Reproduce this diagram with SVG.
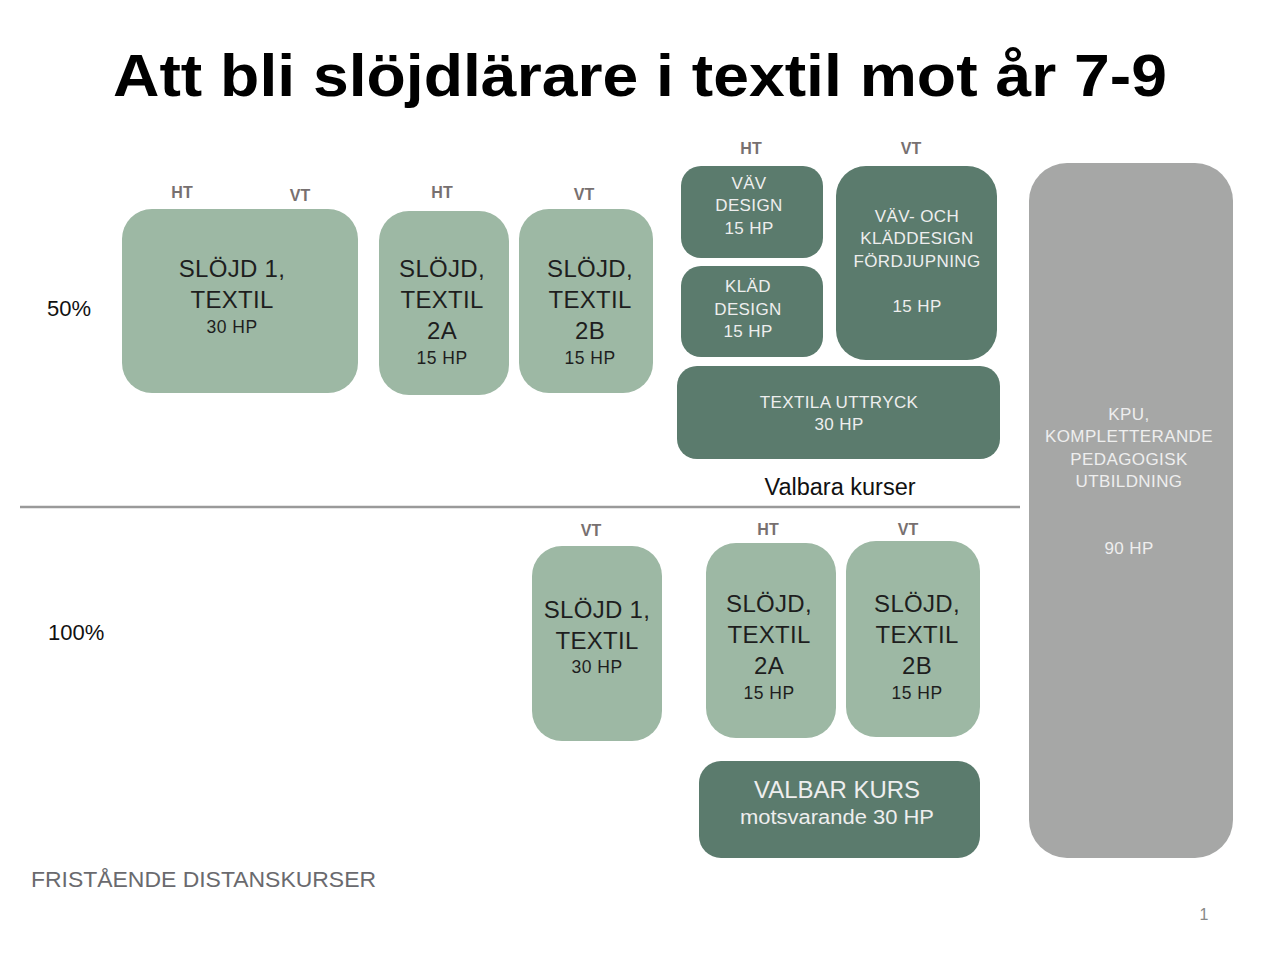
<svg xmlns="http://www.w3.org/2000/svg" width="1280" height="960" viewBox="0 0 1280 960">
<style>
text{font-family:"Liberation Sans",Arial,sans-serif;text-anchor:middle}
.light{fill:#9db8a4}
.dark{fill:#5b7b6d}
.gray{fill:#a6a7a6}
.lt{fill:#1e1e1e;font-size:24px;letter-spacing:0.3px}
.lts{fill:#1e1e1e;font-size:17.5px;letter-spacing:0.5px}
.dt{fill:#eeeeee;font-size:17px;letter-spacing:0.4px}
.sem{fill:#777070;font-size:16px;font-weight:bold}
.pct{fill:#111;font-size:22px;text-anchor:start}
</style>
<rect width="1280" height="960" fill="#fff"/>
<text x="640" y="96" font-size="60" font-weight="bold" fill="#000" textLength="1054" lengthAdjust="spacingAndGlyphs">Att bli slöjdlärare i textil mot år 7-9</text>

<g id="semesters">
<text class="sem" x="182" y="198">HT</text>
<text class="sem" x="300" y="201">VT</text>
<text class="sem" x="442" y="198">HT</text>
<text class="sem" x="584" y="200">VT</text>
<text class="sem" x="751" y="154">HT</text>
<text class="sem" x="911" y="154">VT</text>
<text class="sem" x="591" y="536">VT</text>
<text class="sem" x="768" y="535">HT</text>
<text class="sem" x="908" y="535">VT</text>
</g>

<text class="pct" x="47" y="316">50%</text>
<text class="pct" x="48" y="640">100%</text>

<g id="s1-50">
<rect class="light" x="122" y="209" width="236" height="184" rx="30"/>
<text class="lt" x="232" y="277">SLÖJD 1,</text>
<text class="lt" x="232" y="308">TEXTIL</text>
<text class="lts" x="232" y="333">30 HP</text>
</g>
<g id="s2a-50">
<rect class="light" x="379" y="211" width="130" height="184" rx="30"/>
<text class="lt" x="442" y="277">SLÖJD,</text>
<text class="lt" x="442" y="308">TEXTIL</text>
<text class="lt" x="442" y="339">2A</text>
<text class="lts" x="442" y="364">15 HP</text>
</g>
<g id="s2b-50">
<rect class="light" x="519" y="209" width="134" height="184" rx="30"/>
<text class="lt" x="590" y="277">SLÖJD,</text>
<text class="lt" x="590" y="308">TEXTIL</text>
<text class="lt" x="590" y="339">2B</text>
<text class="lts" x="590" y="364">15 HP</text>
</g>

<g id="vav">
<rect class="dark" x="681" y="166" width="142" height="92" rx="20"/>
<text class="dt" x="749" y="189">VÄV</text>
<text class="dt" x="749" y="211">DESIGN</text>
<text class="dt" x="749" y="234">15 HP</text>
</g>
<g id="klad">
<rect class="dark" x="681" y="266" width="142" height="91" rx="20"/>
<text class="dt" x="748" y="292">KLÄD</text>
<text class="dt" x="748" y="315">DESIGN</text>
<text class="dt" x="748" y="337">15 HP</text>
</g>
<g id="fordjupning">
<rect class="dark" x="836" y="166" width="161" height="194" rx="30"/>
<text class="dt" x="917" y="222">VÄV- OCH</text>
<text class="dt" x="917" y="244">KLÄDDESIGN</text>
<text class="dt" x="917" y="267">FÖRDJUPNING</text>
<text class="dt" x="917" y="312">15 HP</text>
</g>
<g id="textila">
<rect class="dark" x="677" y="366" width="323" height="93" rx="20"/>
<text class="dt" x="839" y="408">TEXTILA UTTRYCK</text>
<text class="dt" x="839" y="430">30 HP</text>
</g>
<text x="840" y="495" font-size="23.5" fill="#111">Valbara kurser</text>

<g id="connectors">
<line x1="20" y1="507" x2="1020" y2="507" stroke="#9a9a9a" stroke-width="2.5"/>
</g>

<g id="kpu">
<rect class="gray" x="1029" y="163" width="204" height="695" rx="38"/>
<text class="dt" x="1129" y="420">KPU,</text>
<text class="dt" x="1129" y="442">KOMPLETTERANDE</text>
<text class="dt" x="1129" y="465">PEDAGOGISK</text>
<text class="dt" x="1129" y="487">UTBILDNING</text>
<text class="dt" x="1129" y="554">90 HP</text>
</g>

<g id="s1-100">
<rect class="light" x="532" y="546" width="130" height="195" rx="30"/>
<text class="lt" x="597" y="618">SLÖJD 1,</text>
<text class="lt" x="597" y="649">TEXTIL</text>
<text class="lts" x="597" y="673">30 HP</text>
</g>
<g id="s2a-100">
<rect class="light" x="706" y="543" width="130" height="195" rx="30"/>
<text class="lt" x="769" y="612">SLÖJD,</text>
<text class="lt" x="769" y="643">TEXTIL</text>
<text class="lt" x="769" y="674">2A</text>
<text class="lts" x="769" y="699">15 HP</text>
</g>
<g id="s2b-100">
<rect class="light" x="846" y="541" width="134" height="196" rx="30"/>
<text class="lt" x="917" y="612">SLÖJD,</text>
<text class="lt" x="917" y="643">TEXTIL</text>
<text class="lt" x="917" y="674">2B</text>
<text class="lts" x="917" y="699">15 HP</text>
</g>
<g id="valbar">
<rect class="dark" x="699" y="761" width="281" height="97" rx="22"/>
<text x="837" y="798" font-size="23" fill="#eeeeee" textLength="166" lengthAdjust="spacingAndGlyphs">VALBAR KURS</text>
<text x="837" y="824" font-size="20" fill="#eeeeee" textLength="194" lengthAdjust="spacingAndGlyphs">motsvarande 30 HP</text>
</g>

<text x="31" y="887" font-size="22" fill="#6a6a6e" style="text-anchor:start" textLength="345" lengthAdjust="spacingAndGlyphs">FRISTÅENDE DISTANSKURSER</text>
<text x="1204" y="920" font-size="16" fill="#888">1</text>
</svg>
